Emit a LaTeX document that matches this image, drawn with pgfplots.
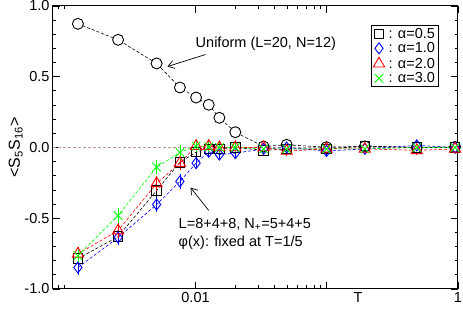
\documentclass[border=0pt]{standalone}
\usepackage{fontspec}
\setmainfont{Liberation Sans}
\usepackage{pgfplots}
\pgfplotsset{compat=1.18}
\usetikzlibrary{arrows.meta}
\definecolor{zline}{RGB}{195,150,150}
\definecolor{xgreen}{RGB}{0,255,0}
\begin{document}
\begin{tikzpicture}[font=\fontsize{14.5}{17}\selectfont]
\begin{axis}[name=ax, scale only axis, width=405pt, height=283pt,
 xmode=log, xmin=0.00082, xmax=1, ymin=-1, ymax=1,
 xtick={0.01,0.1,1}, xticklabels={0.01,,1},
 minor xtick={0.0009,0.001,0.02,0.03,0.04,0.05,0.06,0.07,0.08,0.09},
 ytick={-1,-0.5,0,0.5,1}, yticklabels={-1.0,-0.5,0.0,0.5,1.0},
 minor ytick={-0.9,-0.8,-0.7,-0.6,-0.4,-0.3,-0.2,-0.1,0.1,0.2,0.3,0.4,0.6,0.7,0.8,0.9},
 tick align=inside, major tick length=7pt, minor tick length=3.5pt,
 every tick/.style={black, line width=0.8pt},
 axis line style={line width=1pt},
 xlabel={T}, xlabel style={at={(axis description cs:0.753,0)}, anchor=north},
 ylabel={<S\textsubscript{5}S\textsubscript{16}>},
 ylabel style={at={(axis description cs:-0.0815,0.5)}, anchor=base, font=\fontsize{16}{19}\selectfont},
 legend style={at={(axis description cs:0.953,0.933)}, anchor=north east, draw=black, line width=1pt,
   inner xsep=2pt, inner ysep=2.5pt, row sep=3pt, nodes={inner xsep=1.5pt, inner ysep=0pt}, font=\fontsize{14.5}{16}\selectfont},
 legend cell align=left,
 legend image code/.code={\draw[#1,only marks] plot coordinates {(0.18cm,0cm)};},
 error bars/error bar style={solid, line width=0.6pt},
 error bars/error mark options={solid, mark size=3pt, line width=0.6pt},
]
\addplot[zline, dash pattern=on 3pt off 2pt, line width=0.5pt, forget plot] coordinates {(0.00082,0) (1,0)};

\addplot[black, dash pattern=on 3pt off 2pt, line width=0.6pt, mark=*, mark size=5.5pt,
  mark options={solid, line width=0.9pt, fill=white, draw=black}, forget plot] coordinates {
 (0.00127,0.874) (0.00257,0.761) (0.00505,0.594) (0.0076,0.424) (0.0101,0.353)
 (0.0126,0.302) (0.0152,0.210) (0.0201,0.108) (0.033,0.007) (0.0495,0.019)
 (0.0995,0.002) (0.195,0.008) (0.485,0.0) (0.95,0.004)};

\addplot[black, dash pattern=on 3pt off 2pt, line width=0.6pt, mark=square, mark size=4.7pt,
  mark options={solid, line width=0.9pt},
  error bars/.cd, y dir=both, y explicit] coordinates {
 (0.00127,-0.785) +- (0,0.03) (0.00257,-0.63) +- (0,0.03) (0.00505,-0.304) +- (0,0.03)
 (0.0076,-0.105) +- (0,0.03) (0.0101,-0.033) +- (0,0.02) (0.0126,-0.01) +- (0,0.015)
 (0.0152,-0.01) +- (0,0.015) (0.0201,0.0) +- (0,0.015) (0.033,-0.02) +- (0,0.015)
 (0.0495,-0.01) +- (0,0.015) (0.0995,-0.01) +- (0,0.015) (0.195,0.01) +- (0,0.015)
 (0.485,0.0) +- (0,0.015) (0.95,0.0) +- (0,0.015)};
\addlegendentry{\,: α=0.5}

\addplot[blue, dash pattern=on 3pt off 2pt, line width=0.6pt, mark=diamond, mark size=5.5pt,
  mark options={solid, line width=0.9pt},
  error bars/.cd, y dir=both, y explicit] coordinates {
 (0.00127,-0.848) +- (0,0.03) (0.00257,-0.636) +- (0,0.03) (0.00505,-0.403) +- (0,0.03)
 (0.0076,-0.24) +- (0,0.035) (0.0101,-0.11) +- (0,0.02) (0.0126,-0.03) +- (0,0.015)
 (0.0152,-0.05) +- (0,0.015) (0.0201,-0.04) +- (0,0.015) (0.033,-0.01) +- (0,0.015)
 (0.0495,0.0) +- (0,0.015) (0.0995,-0.025) +- (0,0.015) (0.195,-0.01) +- (0,0.015)
 (0.485,0.015) +- (0,0.015) (0.95,0.0) +- (0,0.015)};
\addlegendentry{\,: α=1.0}

\addplot[red, dash pattern=on 3pt off 2pt, line width=0.6pt, mark=triangle, mark size=6.5pt,
  mark options={solid, line width=0.9pt},
  error bars/.cd, y dir=both, y explicit] coordinates {
 (0.00127,-0.752) +- (0,0.03) (0.00257,-0.587) +- (0,0.03) (0.00505,-0.254) +- (0,0.03)
 (0.0076,-0.11) +- (0,0.03) (0.0101,0.01) +- (0,0.02) (0.0126,0.01) +- (0,0.015)
 (0.0152,0.0) +- (0,0.015) (0.0201,0.0) +- (0,0.015) (0.033,0.0) +- (0,0.015)
 (0.0495,-0.025) +- (0,0.015) (0.0995,-0.01) +- (0,0.015) (0.195,-0.01) +- (0,0.015)
 (0.485,-0.02) +- (0,0.015) (0.95,-0.01) +- (0,0.015)};
\addlegendentry{\,: α=2.0}

\addplot[xgreen, dash pattern=on 3pt off 2pt, line width=0.6pt, mark=x, mark size=6pt,
  mark options={solid, line width=0.9pt},
  error bars/.cd, y dir=both, y explicit] coordinates {
 (0.00127,-0.765) +- (0,0.03) (0.00257,-0.481) +- (0,0.03) (0.00505,-0.139) +- (0,0.03)
 (0.0076,-0.035) +- (0,0.03) (0.0101,0.01) +- (0,0.02) (0.0126,0.005) +- (0,0.015)
 (0.0152,0.0) +- (0,0.015) (0.0201,0.0) +- (0,0.015) (0.033,-0.01) +- (0,0.015)
 (0.0495,-0.01) +- (0,0.015) (0.0995,-0.01) +- (0,0.015) (0.195,-0.01) +- (0,0.015)
 (0.485,0.0) +- (0,0.015) (0.95,0.0) +- (0,0.015)};
\addlegendentry{\,: α=3.0}

\node[anchor=base west, inner sep=0pt] at (axis cs:0.01,0.707) {Uniform (L=20, N=12)};
\draw[line width=0.7pt, -{Straight Barb[length=6pt,width=8pt]}] (axis cs:0.0119,0.657) -- (axis cs:0.00611,0.572);
\node[anchor=base west, inner sep=0pt] at (axis cs:0.00742,-0.572) {L=8+4+8, N\textsubscript{+}=5+4+5};
\node[anchor=base west, inner sep=0pt] at (axis cs:0.00742,-0.70) {φ(x): fixed at T=1/5};
\draw[line width=0.7pt, -{Straight Barb[length=6pt,width=8pt]}] (axis cs:0.0126,-0.445) -- (axis cs:0.00916,-0.283);
\end{axis}
\pgfresetboundingbox
\path[use as bounding box] ([shift={(-53pt,-20pt)}]ax.south west) rectangle ([shift={(5pt,6pt)}]ax.north east);
\end{tikzpicture}
\end{document}
